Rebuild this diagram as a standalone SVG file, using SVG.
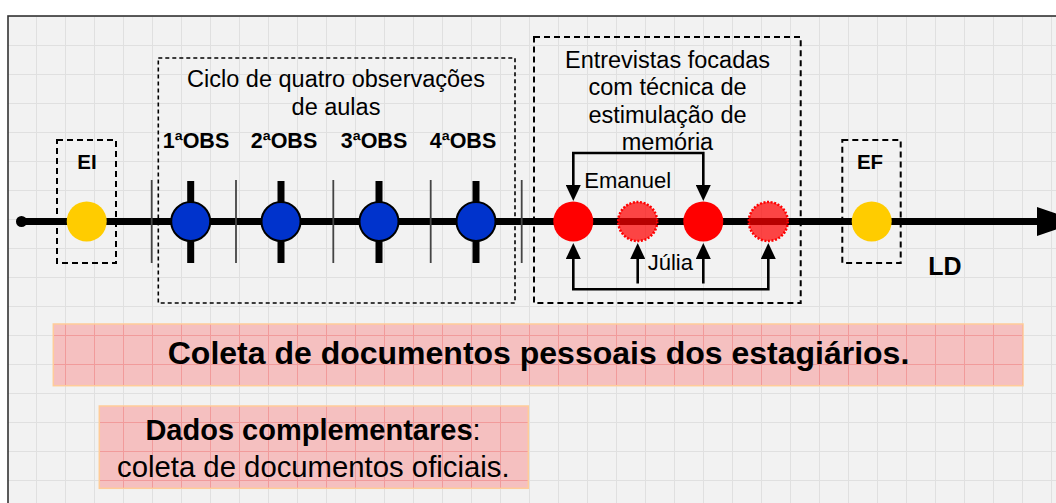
<svg xmlns="http://www.w3.org/2000/svg" width="1056" height="503" viewBox="0 0 1056 503">
  <defs>
    <pattern id="grid" x="7" y="16" width="29" height="29" patternUnits="userSpaceOnUse">
      <path d="M0.5,0 V29 M0,0.5 H29" fill="none" stroke="#e0e0e0" stroke-width="1"/>
    </pattern>
    <pattern id="pinkgrid" x="7" y="16" width="29" height="29" patternUnits="userSpaceOnUse">
      <path d="M0.5,0 V29 M0,0.5 H29" fill="none" stroke="#ee7d7d" stroke-width="1"/>
    </pattern>
    <marker id="arr" viewBox="0 0 16 15" refX="0" refY="7.5" markerWidth="16" markerHeight="15" markerUnits="userSpaceOnUse" orient="auto-start-reverse">
      <path d="M0,0 L16,7.5 L0,15 Z" fill="#000"/>
    </marker>
    <style>
      text { font-family: "Liberation Sans", Arial, sans-serif; fill: #000; }
      .b { font-weight: bold; }
      .mid { text-anchor: middle; }
      .lbl { font-size: 23.5px; }
      .obs { font-size: 21.5px; font-weight: bold; text-anchor: middle; }
      .dash1 { fill: none; stroke: #000; stroke-width: 1.6; stroke-dasharray: 4 3; }
      .dash2 { fill: none; stroke: #000; stroke-width: 2; stroke-dasharray: 6 4; }
      .sep { stroke: #444; stroke-width: 1.8; }
      .tick { stroke: #000; stroke-width: 7; }
      .blue { fill: #0033cc; stroke: #000; stroke-width: 2; }
      .yellow { fill: #ffcc00; }
      .red { fill: #ff0000; }
      .redd { fill: #ff0000; fill-opacity: 0.72; stroke: #ff0000; stroke-width: 2.5; stroke-dasharray: 2 1.6; }
      .conn { fill: none; stroke: #000; stroke-width: 2.6; }
      .pink { fill: #f5c0c0; stroke: #ffcc99; stroke-width: 1.5; }
    </style>
  </defs>

  <!-- background frame -->
  <rect x="0" y="0" width="1056" height="503" fill="#ffffff"/>
  <rect x="8" y="16" width="1070" height="500" fill="#f2f2f2"/>
  <rect x="8" y="16" width="1070" height="500" fill="url(#grid)"/>
  <rect x="8" y="16" width="1070" height="500" fill="none" stroke="#333" stroke-width="1.6"/>

  <!-- timeline -->
  <g id="timeline">
    <circle cx="21.5" cy="221.5" r="5.5" fill="#000"/>
    <line x1="21.5" y1="221.5" x2="1040" y2="221.5" stroke="#000" stroke-width="7"/>
    <polygon points="1037,207 1080,221.5 1037,236" fill="#000"/>
  </g>

  <!-- separators -->
  <g id="separators">
    <line class="sep" x1="151.7" y1="180" x2="151.7" y2="263"/>
    <line class="sep" x1="236" y1="180" x2="236" y2="263"/>
    <line class="sep" x1="333.3" y1="180" x2="333.3" y2="263"/>
    <line class="sep" x1="430.7" y1="180" x2="430.7" y2="263"/>
    <line class="sep" x1="521.7" y1="180" x2="521.7" y2="263"/>
  </g>

  <g id="node-EI">
    <rect class="dash2" x="57" y="140" width="59" height="123"/>
    <circle class="yellow" cx="86.7" cy="221.5" r="20"/>
    <text class="b mid" x="87" y="169" font-size="20.5">EI</text>
  </g>

  <g id="node-ciclo">
    <rect class="dash1" x="158.3" y="58" width="356.7" height="245"/>
    <text class="lbl mid" x="336" y="87">Ciclo de quatro observações</text>
    <text class="lbl mid" x="336" y="114.5">de aulas</text>
  </g>

  <g id="node-obs1">
    <line class="tick" x1="190.7" y1="181" x2="190.7" y2="263"/>
    <circle class="blue" cx="190.7" cy="221.5" r="19.5"/>
    <text class="obs" x="196" y="148">1ªOBS</text>
  </g>
  <g id="node-obs2">
    <line class="tick" x1="281" y1="181" x2="281" y2="263"/>
    <circle class="blue" cx="281" cy="221.5" r="19.5"/>
    <text class="obs" x="284" y="148">2ªOBS</text>
  </g>
  <g id="node-obs3">
    <line class="tick" x1="379" y1="181" x2="379" y2="263"/>
    <circle class="blue" cx="379" cy="221.5" r="19.5"/>
    <text class="obs" x="374" y="148">3ªOBS</text>
  </g>
  <g id="node-obs4">
    <line class="tick" x1="476" y1="181" x2="476" y2="263"/>
    <circle class="blue" cx="476" cy="221.5" r="19.5"/>
    <text class="obs" x="463" y="148">4ªOBS</text>
  </g>

  <g id="node-entrevistas">
    <rect class="dash2" x="534" y="37" width="266.7" height="266"/>
    <text class="lbl mid" x="667.5" y="67.5">Entrevistas focadas</text>
    <text class="lbl mid" x="667.5" y="95">com técnica de</text>
    <text class="lbl mid" x="667.5" y="122.5">estimulação de</text>
    <text class="lbl mid" x="667.5" y="150">memória</text>
  </g>

  <g id="node-ent1"><circle class="red" cx="573.3" cy="221.5" r="20"/></g>
  <g id="node-ent2"><circle class="redd" cx="637.7" cy="221.5" r="19.5"/></g>
  <g id="node-ent3"><circle class="red" cx="703.3" cy="221.5" r="20"/></g>
  <g id="node-ent4"><circle class="redd" cx="768.3" cy="221.5" r="19.5"/></g>

  <g id="node-EF">
    <rect class="dash2" x="842.3" y="140" width="58.4" height="123"/>
    <circle class="yellow" cx="871.7" cy="221.5" r="20"/>
    <text class="b mid" x="870" y="169" font-size="20.5">EF</text>
  </g>

  <g id="node-LD">
    <text class="b mid" x="945" y="275" font-size="25">LD</text>
  </g>

  <g id="connectors">
    <path class="conn" d="M573.3,185 V153 H703.3 V185" marker-start="url(#arr)" marker-end="url(#arr)"/>
    <path class="conn" d="M573.3,259 V289.3 H768.3 V259" marker-start="url(#arr)" marker-end="url(#arr)"/>
    <path class="conn" d="M637.7,283.5 V259" marker-end="url(#arr)"/>
    <path class="conn" d="M703.3,283.5 V259" marker-end="url(#arr)"/>
    <text x="584.3" y="188.3" font-size="22">Emanuel</text>
    <text x="647.7" y="270" font-size="22">Júlia</text>
  </g>

  <g id="node-coleta">
    <rect class="pink" x="53.3" y="324" width="969.7" height="61.7"/>
    <rect x="54" y="324.7" width="968.3" height="60.3" fill="url(#pinkgrid)" opacity="0.55"/>
    <text class="b mid" x="538.5" y="363.5" font-size="32">Coleta de documentos pessoais dos estagiários.</text>
  </g>

  <g id="node-dados">
    <rect class="pink" x="99.3" y="406" width="429" height="82.3"/>
    <rect x="100" y="406.7" width="427.6" height="81" fill="url(#pinkgrid)" opacity="0.55"/>
    <text class="mid" x="313" y="440" font-size="29"><tspan font-weight="bold">Dados complementares</tspan>:</text>
    <text class="mid" x="313.3" y="476.7" font-size="29.3">coleta de documentos oficiais.</text>
  </g>
</svg>
